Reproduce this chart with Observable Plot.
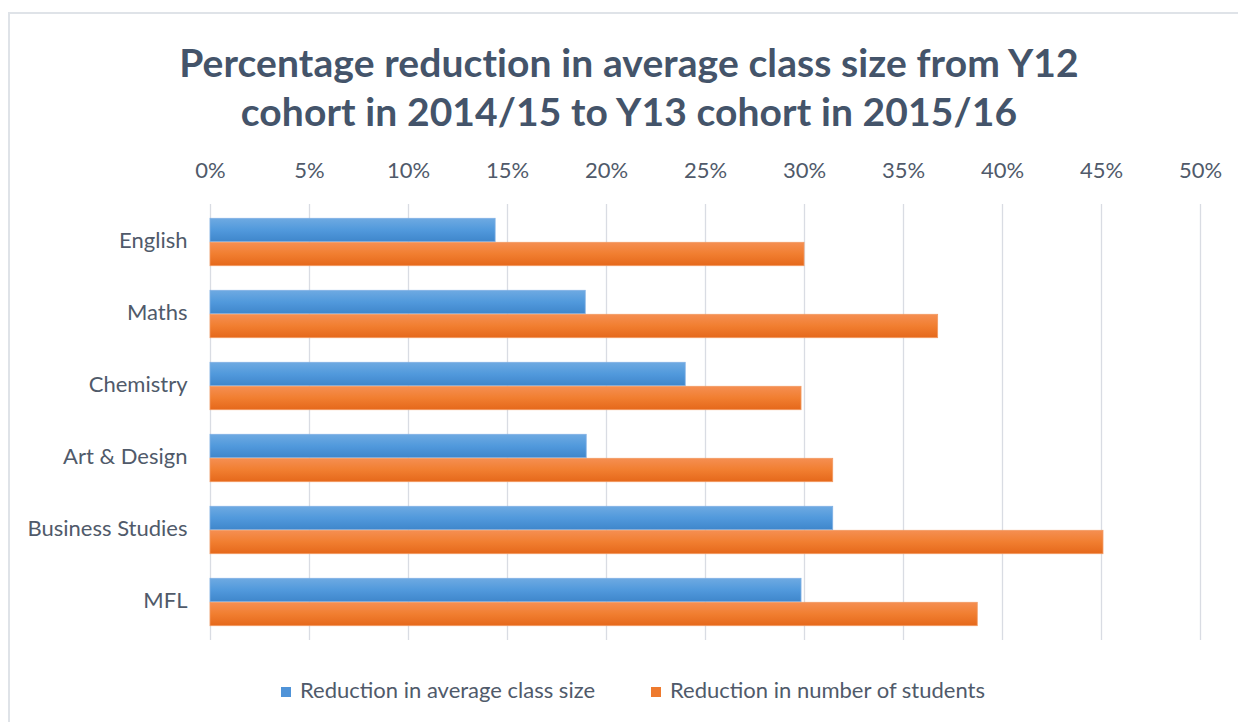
<!DOCTYPE html>
<html>
<head>
<meta charset="utf-8">
<script src="https://cdn.jsdelivr.net/npm/d3@7"></script>
<script src="https://cdn.jsdelivr.net/npm/@observablehq/plot@0.6"></script>
<style>
  html, body { margin: 0; padding: 0; background: #fff; width: 1238px; height: 722px; overflow: hidden; }
  body { position: relative; font-family: Lato, "Open Sans", sans-serif; }
  #frame { position: absolute; left: 8px; top: 12px; width: 1240px; height: 730px; border: 2px solid #dfe3e8; box-sizing: border-box; }
  #title { position: absolute; left: 0; width: 1258px; top: 38px; text-align: center; color: #44546a; font-weight: 700; font-size: 39px; line-height: 49px; letter-spacing: 0.1px; }
  #chart { position: absolute; left: 0; top: 150px; }
  #legend { position: absolute; top: 676px; left: 0; width: 1238px; height: 30px; color: #505a6a; font-size: 22px; }
  .li { position: absolute; top: 0; white-space: nowrap; line-height: 28px; }
  .sw { display: inline-block; width: 10px; height: 10px; margin-right: 9px; vertical-align: 1px; }
</style>
</head>
<body>
<div id="frame"></div>
<div id="title">Percentage reduction in average class size from Y12<br>cohort in 2014/15 to Y13 cohort in 2015/16</div>
<div id="chart"></div>
<div id="legend"></div>
<script>
const categories = ["English", "Maths", "Chemistry", "Art & Design", "Business Studies", "MFL"];
const seriesNames = ["Reduction in average class size", "Reduction in number of students"];
const classSize = [14.4, 18.95, 24.0, 19.0, 31.45, 29.85];
const numStudents = [30.0, 36.75, 29.85, 31.45, 45.1, 38.75];
const xTicks = [0, 5, 10, 15, 20, 25, 30, 35, 40, 45, 50];
const colors = ["#4f93d8", "#ee7a2e"];

const blueData = categories.map((c, i) => ({category: c, value: classSize[i]}));
const orangeData = categories.map((c, i) => ({category: c, value: numStudents[i]}));

const plot = Plot.plot({
  width: 1238,
  height: 492,
  marginLeft: 210,
  marginRight: 38,
  marginTop: 54,
  marginBottom: 2,
  style: {fontFamily: "Lato, 'Open Sans', sans-serif", fontSize: "22px", color: "#505a6a", background: "transparent"},
  x: {domain: [0, 50], ticks: xTicks, label: null},
  y: {domain: categories, padding: 0, label: null},
  marks: [
    Plot.gridX(xTicks, {stroke: "#d9dce3", strokeOpacity: 1, strokeWidth: 1.3}),
    Plot.barX(blueData, {x: "value", y: "category", fill: "url(#gBlue)", stroke: "#7fb0e4", strokeWidth: 0.8, insetTop: 12.3, insetBottom: 36.3}),
    Plot.barX(orangeData, {x: "value", y: "category", fill: "url(#gOrange)", stroke: "#f29a62", strokeWidth: 0.8, insetTop: 36.3, insetBottom: 12.3}),
    Plot.axisX(xTicks, {anchor: "top", tickSize: 0, tickPadding: 27, tickFormat: d => d + "%", fontSize: 22, fill: "#505a6a", label: null}),
    Plot.axisY({anchor: "left", tickSize: 0, tickPadding: 23, fontSize: 22, fill: "#505a6a", dy: -2, label: null})
  ]
});

const svg = d3.select(plot);
const defs = svg.insert("defs", ":first-child");
const gb = defs.append("linearGradient").attr("id", "gBlue").attr("x1", 0).attr("y1", 0).attr("x2", 0).attr("y2", 1);
gb.append("stop").attr("offset", "0%").attr("stop-color", "#6eaae2");
gb.append("stop").attr("offset", "50%").attr("stop-color", "#5199dc");
gb.append("stop").attr("offset", "100%").attr("stop-color", "#3f86cb");
const go = defs.append("linearGradient").attr("id", "gOrange").attr("x1", 0).attr("y1", 0).attr("x2", 0).attr("y2", 1);
go.append("stop").attr("offset", "0%").attr("stop-color", "#f58f52");
go.append("stop").attr("offset", "50%").attr("stop-color", "#f17e30");
go.append("stop").attr("offset", "100%").attr("stop-color", "#e5681b");

document.getElementById("chart").appendChild(plot);

const legend = document.getElementById("legend");
const lx = [281, 651];
seriesNames.forEach((name, i) => {
  const item = document.createElement("div");
  item.className = "li";
  item.style.left = lx[i] + "px";
  const sw = document.createElement("span");
  sw.className = "sw";
  sw.style.background = colors[i];
  item.appendChild(sw);
  item.appendChild(document.createTextNode(name));
  legend.appendChild(item);
});
</script>
</body>
</html>
